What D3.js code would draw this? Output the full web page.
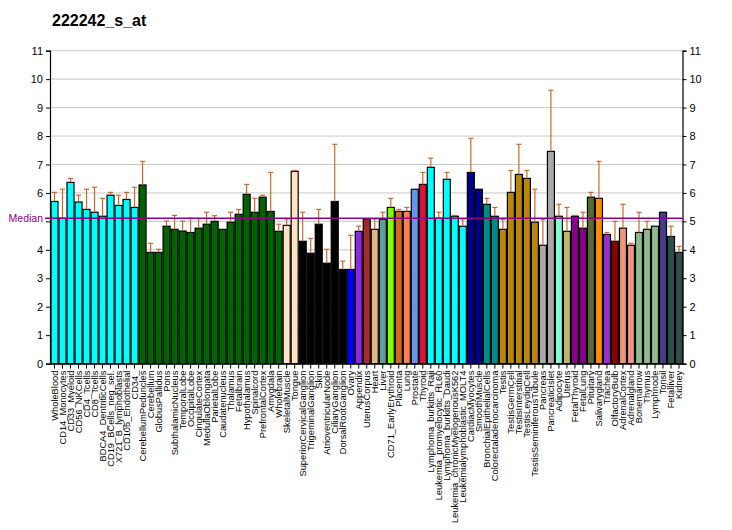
<!DOCTYPE html>
<html>
<head>
<meta charset="utf-8">
<script src="https://cdn.jsdelivr.net/npm/d3@7"></script>
<style>
  body { margin: 0; background: #fff; }
  text { font-family: Arial, "Liberation Sans", sans-serif; }
</style>
</head>
<body>
<svg id="chart" width="732" height="530"></svg>
<script>
const title = "222242_s_at";
const categories = ["WholeBlood","CD14_Monocytes","CD33_Myeloid","CD56_NKCells","CD4_Tcells","CD8_Tcells","BDCA4_DentriticCells","CD19_BCells_neg_sel.","X721_B_lymphoblasts","CD105_Endothelial","CD34_",
"CerebellumPeduncles","Cerebellum","GlobusPallidus","Pons","SubthalamicNucleus","TemporalLobe","OccipitalLobe","CingulateCortex","MedullaOblongata","ParietalLobe","Caudatenucleus","Thalamus","Fetalbrain","Hypothalamus","Spinalcord","PrefrontalCortex","Amygdala","Wholebrain",
"SkeletalMuscle","Tongue",
"SuperiorCervicalGanglion","TrigeminalGanglion","Skin","AtrioventricularNode","CiliaryGanglion","DorsalRootGanglion",
"Ovary","Appendix","UterusCorpus","Heart","Liver","CD71_EarlyErythroid","Placenta","Lung","Prostate","Thyroid",
"Lymphoma_burkitts_Raji","Leukemia_promyelocytic_HL60","Lymphoma_burkitts_Daudi","Leukemia_chronicMyelogenousK562","Leukemialymphoblastic_MOLT4",
"CardiacMyocytes","SmoothMuscle","BronchialEpithelialCells","Colorectaladenocarcinoma",
"Testis","TestisGermCell","TestisInterstitial","TestisLeydigCell","TestisSeminiferousTubule",
"Pancreas","PancreaticIslet",
"Adipocyte","Uterus","FetalThyroid","FetalLung","Pituitary","Salivarygland","Trachea","OlfactoryBulb","AdrenalCortex","Adrenalgland","Bonemarrow","Thymus","Lymphnode","Tonsil","Fetalliver","Kidney"];

const values = [5.70,5.11,6.37,5.68,5.42,5.32,5.18,5.92,5.56,5.77,5.49,
6.28,3.91,3.91,4.83,4.72,4.66,4.61,4.76,4.90,5.00,4.72,4.97,5.25,5.95,5.32,5.85,5.35,4.65,
4.86,6.76,
4.30,3.88,4.90,3.53,5.70,3.31,
3.31,4.65,5.07,4.72,5.07,5.49,5.35,5.35,6.13,6.30,
6.90,5.11,6.48,5.18,4.83,
6.72,6.13,5.60,5.18,
4.72,6.02,6.65,6.51,4.97,
4.16,7.46,
5.18,4.65,5.18,4.76,5.85,5.81,4.54,4.30,4.76,4.16,4.61,4.72,4.83,5.32,4.47,3.91];

const errorTops = [6.02,6.13,6.51,5.92,6.13,6.20,5.81,6.02,5.92,6.02,6.20,
7.11,4.23,4.02,5.01,5.21,5.01,5.11,5.10,5.32,5.20,4.72,5.32,5.42,6.30,5.81,5.92,6.72,4.90,
5.08,6.79,
5.32,4.40,5.42,4.02,7.71,3.60,
4.51,4.83,5.10,5.08,5.32,5.81,5.42,5.49,6.13,6.72,
7.22,5.32,6.72,5.21,5.08,
7.92,6.13,5.81,5.49,
5.07,6.79,7.71,6.79,6.13,
5.07,9.61,
5.60,5.49,5.21,5.32,6.02,7.11,4.61,5.00,5.60,4.23,5.32,5.00,4.83,5.32,4.83,4.12];

const colors = [
"#00FFFF","#00FFFF","#00FFFF","#00FFFF","#00FFFF","#00FFFF","#00FFFF","#00FFFF","#00FFFF","#00FFFF","#00FFFF",
"#006400","#006400","#006400","#006400","#006400","#006400","#006400","#006400","#006400","#006400","#006400","#006400","#006400","#006400","#006400","#006400","#006400","#006400",
"#FFE4C4","#FFE4C4",
"#000000","#000000","#000000","#000000","#000000","#000000",
"#0000FF","#8A2BE2","#A52A2A","#DEB887","#5F9EA0","#7FFF00","#D2691E","#FF7F50","#6495ED","#DC143C",
"#00FFFF","#00FFFF","#00FFFF","#00FFFF","#00FFFF",
"#00008B","#00008B","#008B8B","#008B8B",
"#B8860B","#B8860B","#B8860B","#B8860B","#B8860B",
"#A9A9A9","#A9A9A9",
"#7FFFD4","#BDB76B","#8B008B","#8B008B","#556B2F","#FF8C00","#9932CC","#8B0000","#E9967A","#E9967A","#8FBC8F","#8FBC8F","#8FBC8F","#483D8B","#2F4F4F","#2F4F4F"];

const yTicks = [0,1,2,3,4,5,6,7,8,9,10,11];
const median = 5.11;

const svg = d3.select("#chart");
const mLeft = 50, mRight = 682.5, mTop = 50.7, mBottom = 363.6;

const x = d3.scaleBand().domain(categories).range([mLeft, mRight]).paddingInner(0.125).paddingOuter(0.06);
const y = d3.scaleLinear().domain([0, 11]).range([mBottom, mTop]);

// title
svg.append("text").attr("x", 52).attr("y", 26)
  .attr("font-size", 16).attr("font-weight", "bold").attr("fill", "#000").text(title);

// grid
svg.append("g").selectAll("line").data(yTicks.filter(d => d > 0)).join("line")
  .attr("x1", mLeft).attr("x2", mRight)
  .attr("y1", d => y(d)).attr("y2", d => y(d))
  .attr("stroke", "#c8c8c8").attr("stroke-width", 1);

// bars
const data = categories.map((c, i) => ({c, v: values[i], e: errorTops[i], col: colors[i]}));
svg.append("g").selectAll("rect").data(data).join("rect")
  .attr("x", d => x(d.c) + 0.5)
  .attr("y", d => y(d.v))
  .attr("width", x.bandwidth())
  .attr("height", d => y(0) - y(d.v))
  .attr("fill", d => d.col)
  .attr("stroke", "#000").attr("stroke-width", 1.2);

// error bars
const eg = svg.append("g").attr("stroke", "#C8692E").attr("stroke-width", 1.2);
data.filter(d => d.e > d.v + 0.01).forEach(d => {
  const cx = x(d.c) + x.bandwidth() / 2 + 0.5;
  eg.append("line").attr("x1", cx).attr("x2", cx).attr("y1", y(d.v)).attr("y2", y(d.e));
  eg.append("line").attr("x1", cx - 2.5).attr("x2", cx + 2.5).attr("y1", y(d.e)).attr("y2", y(d.e));
});

// axes
const yAxisL = d3.axisLeft(y).tickValues(yTicks).tickSize(4)
  .tickFormat(d => d === 5 ? "" : d3.format("d")(d));
const yAxisR = d3.axisRight(y).tickValues(yTicks).tickSize(4).tickFormat(d3.format("d"));
const gl = svg.append("g").attr("transform", `translate(${mLeft},0)`).call(yAxisL);
const gr = svg.append("g").attr("transform", `translate(${mRight},0)`).call(yAxisR);
[gl, gr].forEach(g => {
  g.select(".domain").attr("stroke", "#000").attr("stroke-width", 1.2);
  g.selectAll(".tick line").attr("stroke", "#000");
  g.selectAll("text").attr("font-size", 11).attr("font-family", "Arial, 'Liberation Sans', sans-serif").attr("fill", "#000");
});

// median line
svg.append("line").attr("x1", 45).attr("x2", mRight)
  .attr("y1", y(median)).attr("y2", y(median))
  .attr("stroke", "#8B008B").attr("stroke-width", 1.5);
svg.append("text").attr("x", 43).attr("y", y(median) + 4)
  .attr("text-anchor", "end").attr("font-size", 10.5).attr("fill", "#8B008B").text("Median");

const xAxis = d3.axisBottom(x).tickSize(5).tickSizeOuter(0);
const gx = svg.append("g").attr("transform", `translate(0.5,${mBottom})`).call(xAxis);
gx.select(".domain").attr("stroke", "#000").attr("stroke-width", 1.2);
gx.selectAll(".tick line").attr("stroke", "#000");
gx.selectAll("text")
  .attr("font-size", 9.3).attr("font-family", "Arial, 'Liberation Sans', sans-serif").attr("fill", "#000")
  .attr("transform", "rotate(-90)")
  .attr("text-anchor", "end")
  .attr("x", -7).attr("y", 0).attr("dy", "0.35em");
</script>
</body>
</html>
